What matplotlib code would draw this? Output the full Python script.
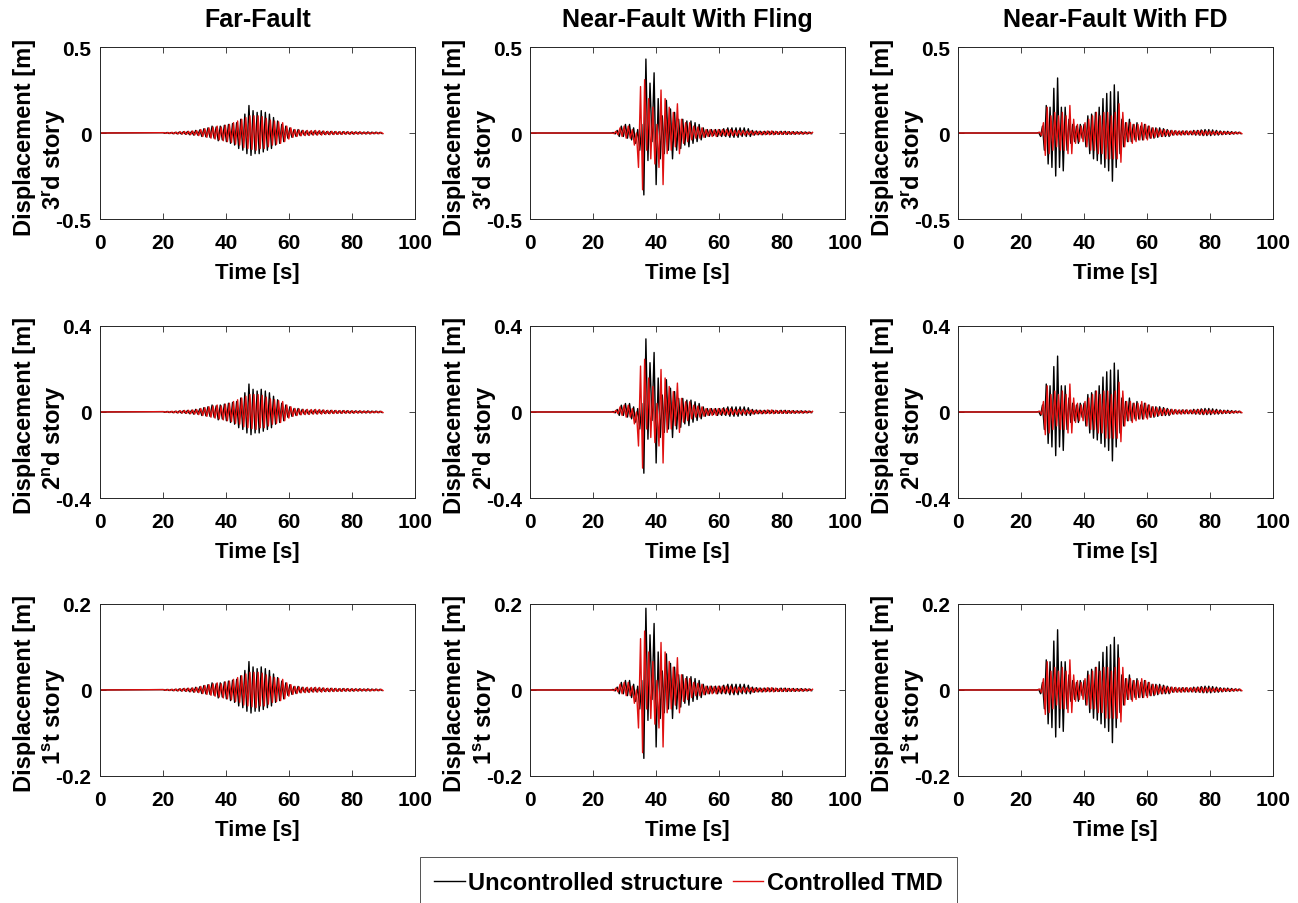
import numpy as np
import matplotlib
matplotlib.use('Agg')
import matplotlib.pyplot as plt

plt.rcParams['font.family'] = ['Liberation Sans Narrow', 'Liberation Sans', 'DejaVu Sans']
plt.rcParams['font.weight'] = 'bold'
plt.rcParams['mathtext.fontset'] = 'custom'
plt.rcParams['mathtext.rm'] = 'Liberation Sans:bold'
plt.rcParams['mathtext.bf'] = 'Liberation Sans:bold'
plt.rcParams['mathtext.default'] = 'bf'

# column titles and row labels
records = ['Far-Fault', 'Near-Fault With Fling', 'Near-Fault With FD']
stories = ['3$^{r}$d story', '2$^{n}$d story', '1$^{s}$t story']
y_limits = [0.5, 0.4, 0.2]
x_ticks = [0, 20, 40, 60, 80, 100]

# peak displacement of uncontrolled response per story (3rd, 2nd, 1st)
story_peaks = {
    'Far-Fault': [0.16, 0.13, 0.066],
    'Near-Fault With Fling': [0.43, 0.34, 0.19],
    'Near-Fault With FD': [0.32, 0.26, 0.14],
}

# 3rd story response: successive extrema [m], first extremum time and half period [s]
far_start = (20.0, 20.3)
far_half_period = 0.65
far_uncontrolled = [
    0.002, -0.002, 0.003, -0.003, 0.003, -0.004, 0.004, -0.005,
    0.006, -0.006, 0.008, -0.007, 0.009, -0.010, 0.010, -0.012, 0.015, -0.012, 0.018,
    -0.020, 0.025, -0.022, 0.030, -0.025, 0.040, -0.030, 0.035, -0.045, 0.040, -0.040, 0.045,
    -0.050, 0.050, -0.060, 0.055, -0.070, 0.060,
    -0.090, 0.080, -0.100, 0.110, -0.120,
    0.160, -0.130, 0.130, -0.120,
    0.120, -0.120, 0.130, -0.110, 0.120, -0.100, 0.110, -0.090, 0.090,
    -0.070, 0.070, -0.060, 0.050, -0.050,
    0.040, -0.030, 0.030, -0.025, 0.020, -0.020,
    0.020, -0.015, 0.015, -0.012, 0.012, -0.012,
    0.010, -0.010, 0.012, -0.010, 0.010, -0.008, 0.010, -0.008, 0.008, -0.008,
    0.009, -0.007, 0.008, -0.007, 0.007, -0.007, 0.008, -0.006, 0.007, -0.006,
    0.006, -0.006, 0.006, -0.005, 0.006, -0.005, 0.005, -0.005, 0.006, -0.005,
    0.005, -0.004, 0.005, -0.004, 0.004, -0.003,
]
far_controlled = [
    0.002, -0.002, 0.003, -0.003, 0.004, -0.004, 0.005, -0.005,
    0.007, -0.006, 0.009, -0.008, 0.010, -0.010, 0.012, -0.012, 0.014, -0.015, 0.020,
    -0.020, 0.025, -0.025, 0.030, -0.030, 0.035, -0.035, 0.040, -0.040, 0.035, -0.045, 0.045,
    -0.050, 0.050, -0.055, 0.060, -0.065, 0.070,
    -0.070, 0.080, -0.085, 0.090, -0.090,
    0.100, -0.095, 0.100, -0.100,
    0.100, -0.090, 0.095, -0.090, 0.085, -0.080, 0.075, -0.070, 0.070,
    -0.065, 0.065, -0.060, 0.060, -0.050,
    0.040, -0.035, 0.030, -0.025, 0.020, -0.020,
    0.018, -0.016, 0.015, -0.015, 0.015, -0.014,
    0.014, -0.012, 0.015, -0.012, 0.014, -0.012, 0.012, -0.010, 0.010, -0.010,
    0.010, -0.009, 0.009, -0.008, 0.008, -0.008, 0.008, -0.007, 0.007, -0.007,
    0.007, -0.006, 0.006, -0.006, 0.006, -0.005, 0.005, -0.005, 0.005, -0.005,
    0.004, -0.004, 0.004, -0.004, 0.004, -0.003,
]

fling_start = (25.75, 26.0)
fling_half_period = 0.65
fling_uncontrolled = [
    0.000, 0.003, -0.005, 0.015, -0.020, 0.040, -0.020, 0.050, -0.030, 0.050,
    -0.040, 0.030, -0.060, 0.020, -0.100, 0.050, -0.360, 0.430, -0.160, 0.290,
    -0.050, 0.350, -0.300, 0.200, -0.150, 0.100, -0.120, 0.190, -0.100, 0.140,
    -0.150, 0.120, -0.100, 0.080, -0.090, 0.080, -0.070, 0.070, -0.080, 0.070,
    -0.060, 0.060, -0.050, 0.050, -0.040, 0.030,
    -0.025, 0.020, -0.020, 0.020, -0.015, 0.020, -0.020, 0.020, -0.020, 0.025, -0.020,
    0.030, -0.025, 0.030, -0.025, 0.030, -0.025, 0.030, -0.020, 0.030, -0.020, 0.025, -0.020,
    0.015, -0.012, 0.012, -0.010, 0.010, -0.010, 0.010, -0.008, 0.010, -0.008,
    0.010, -0.008, 0.008, -0.008, 0.010, -0.008, 0.010, -0.008, 0.008, -0.007,
    0.008, -0.007, 0.007, -0.006, 0.007, -0.006, 0.006, -0.005, 0.005, -0.004,
]
fling_controlled = [
    0.000, -0.003, 0.010, -0.010, 0.030, -0.020, 0.040, -0.030, 0.040, -0.030,
    0.020, -0.070, 0.000, -0.200, 0.270, -0.330, 0.310, -0.100, 0.200, -0.150,
    0.150, -0.180, 0.050, -0.200, 0.250, -0.300, 0.200, -0.120, 0.150, -0.100,
    0.120, -0.080, 0.170, -0.120, 0.080, -0.060, 0.060, -0.050, 0.060, -0.040,
    0.040, -0.030, 0.035, -0.030, 0.030,
    -0.025, 0.020, -0.020, 0.020, -0.020, 0.018, -0.020, 0.020, -0.015, 0.020, -0.015, 0.020,
    -0.015, 0.020, -0.015, 0.015, -0.015, 0.015, -0.012, 0.015, -0.012, 0.012, -0.010, 0.012,
    -0.012, 0.010, -0.010, 0.010, -0.010, 0.009, -0.010, 0.012, -0.010, 0.012,
    -0.010, 0.010, -0.008, 0.008, -0.008, 0.008, -0.008, 0.008, -0.007, 0.007,
    -0.007, 0.006, -0.006, 0.006, -0.006, 0.005, -0.005, 0.005, -0.004, 0.004,
]

fd_start = (25.0, 25.3)
fd_half_period = 0.6
fd_uncontrolled = [
    0.000, 0.003, -0.020, 0.040, -0.100, 0.160, -0.180, 0.150, -0.200, 0.260,
    -0.250, 0.320, -0.200, 0.150, -0.220, 0.150, -0.100, 0.080, -0.060, 0.050,
    -0.050, 0.040, -0.060, 0.050, -0.030, 0.050, -0.080, 0.100, -0.120, 0.110,
    -0.150, 0.120, -0.160, 0.150, -0.180, 0.200, -0.200, 0.230, -0.220, 0.240,
    -0.280, 0.280, -0.200, 0.240, -0.120, 0.080, -0.080, 0.060, -0.050, 0.080,
    -0.050, 0.050, -0.040, 0.060, -0.040, 0.040, -0.040, 0.050, -0.030,
    0.040, -0.030, 0.030, -0.030, 0.030, -0.025, 0.030, -0.020, 0.025, -0.020, 0.020, -0.020,
    0.015, -0.012, 0.012, -0.010, 0.010, -0.010, 0.012, -0.010, 0.012, -0.010,
    0.010, -0.010, 0.015, -0.012, 0.015, -0.012, 0.018, -0.015, 0.020, -0.015,
    0.020, -0.015, 0.018, -0.012, 0.015, -0.012, 0.012, -0.010, 0.010, -0.008,
    0.010, -0.008, 0.008, -0.006, 0.006, -0.005, 0.005, -0.004,
]
fd_controlled = [
    0.000, 0.005, -0.015, 0.060, -0.130, 0.150, -0.120, 0.100, -0.100, 0.120,
    -0.080, 0.100, -0.100, 0.120, -0.100, 0.100, -0.120, 0.160, -0.120, 0.080,
    -0.060, 0.050, -0.050, 0.040, -0.050, 0.060, -0.080, 0.080, -0.100, 0.100,
    -0.100, 0.120, -0.120, 0.100, -0.120, 0.120, -0.150, 0.120, -0.150, 0.100,
    -0.150, 0.120, -0.150, 0.170, -0.170, 0.120, -0.080, 0.060, -0.050, 0.060,
    -0.060, 0.050, -0.050, 0.050, -0.040, 0.060, -0.040, 0.050, -0.040,
    0.040, -0.030, 0.030, -0.025, 0.025, -0.020, 0.020, -0.020, 0.020, -0.015, 0.015, -0.015,
    0.015, -0.012, 0.014, -0.012, 0.012, -0.012, 0.012, -0.010, 0.012, -0.010,
    0.012, -0.010, 0.012, -0.010, 0.014, -0.012, 0.014, -0.012, 0.012, -0.010,
    0.012, -0.010, 0.010, -0.010, 0.010, -0.008, 0.008, -0.008, 0.008, -0.006,
    0.006, -0.006, 0.005, -0.005, 0.005, -0.004, 0.004, -0.004,
]

responses = {
    'Far-Fault': (far_start, far_half_period, far_uncontrolled, far_controlled),
    'Near-Fault With Fling': (fling_start, fling_half_period, fling_uncontrolled, fling_controlled),
    'Near-Fault With FD': (fd_start, fd_half_period, fd_uncontrolled, fd_controlled),
}


def extrema_series(t0, half_period, values):
    """Time/value pairs of the extrema, at rest from t = 0 until the first one."""
    t = t0 + half_period * np.arange(len(values))
    return np.concatenate([[0.0], t]), np.concatenate([[0.0], values])


fig = plt.figure(figsize=(12.98, 9.04), dpi=100)

lefts = [0.0770, 0.4083, 0.7381]
bottoms = [0.7566, 0.4480, 0.1405]
width, height = 0.2427, 0.1903
edge = '#262626'
red = '#e01010'

for col, rec in enumerate(records):
    (t0_u, t0_c), hp, unc, con = responses[rec]
    peaks = story_peaks[rec]
    for row in range(3):
        ax = fig.add_axes([lefts[col], bottoms[row], width, height])
        scale = peaks[row] / peaks[0]
        tu, yu = extrema_series(t0_u, hp, unc)
        tc, yc = extrema_series(t0_c, hp, con)
        ax.plot(tu, yu * scale, color='black', lw=1.0, label='Uncontrolled structure')
        ax.plot(tc, yc * scale, color=red, lw=1.0, label='Controlled TMD')

        lim = y_limits[row]
        ax.set_xlim(0, 100)
        ax.set_ylim(-lim, lim)
        ax.set_xticks(x_ticks)
        ax.set_yticks([-lim, 0, lim])
        ax.set_yticklabels([f'{-lim:g}', '0', f'{lim:g}'])
        ax.tick_params(direction='in', top=True, right=True, length=4, width=0.6,
                       colors=edge, labelcolor='black', labelsize=15)
        ax.tick_params(axis='x', pad=10)
        ax.tick_params(axis='y', pad=6)
        for s in ax.spines.values():
            s.set_color(edge)
            s.set_linewidth(0.7)

        ax.set_xlabel('Time [s]', fontsize=16, fontweight='bold', labelpad=7)
        ax.text(-0.24, 0.483, 'Displacement [m]', transform=ax.transAxes, rotation=90,
                ha='center', va='center', fontsize=17, fontweight='bold')
        ax.text(-0.143, 0.355, stories[row], transform=ax.transAxes, rotation=90,
                ha='center', va='center', fontsize=17, fontweight='bold')
        if row == 0:
            ax.set_title(rec, fontsize=18, fontweight='bold', pad=15)

handles, labels = ax.get_legend_handles_labels()
leg = fig.legend(handles, labels, loc='upper center', bbox_to_anchor=(0.5304, 0.0509),
                 ncol=2, frameon=True, fancybox=False, fontsize=17, handlelength=1.3,
                 handletextpad=0.15, columnspacing=0.4, borderaxespad=0, borderpad=0.6)
leg.get_frame().set_edgecolor(edge)
leg.get_frame().set_linewidth(0.7)

fig.savefig('out.png', dpi=100)
